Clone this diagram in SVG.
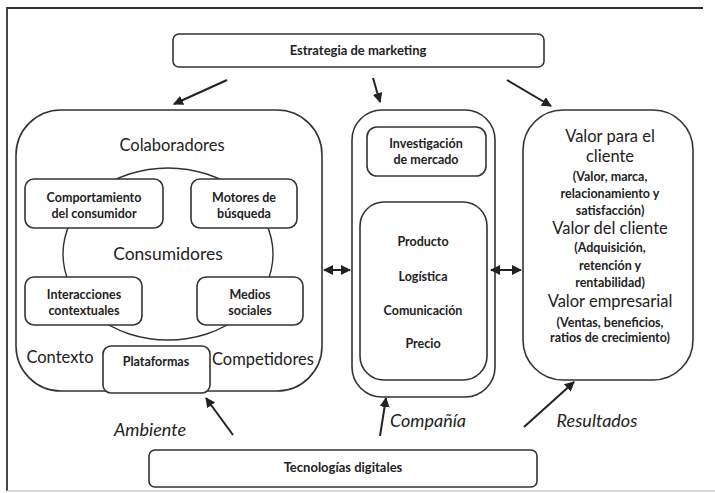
<svg xmlns="http://www.w3.org/2000/svg" width="715" height="493" viewBox="0 0 715 493">
<defs>
<marker id="ah" viewBox="0 0 10 10" refX="9" refY="5" markerWidth="5" markerHeight="5" orient="auto-start-reverse" markerUnits="strokeWidth">
<path d="M0,0 L10,5 L0,10 z" fill="#222"/>
</marker>
</defs>
<style>
.box{fill:#fff;stroke:#333;stroke-width:1.6}
.t{font-family:Lato,"Liberation Sans",sans-serif;fill:#222;text-anchor:middle}
.s{font-size:12.5px;font-weight:bold}
.m{font-size:13px;font-weight:bold}
.l{font-size:16.5px}
.xl{font-size:17.5px}
.it{font-style:italic;font-size:18px}
.ar{stroke:#222;stroke-width:2;fill:none;marker-end:url(#ah)}
.dar{stroke:#222;stroke-width:2;fill:none;marker-end:url(#ah);marker-start:url(#ah)}
</style>
<rect width="715" height="493" fill="#fff"/>
<path d="M7,491 L7,8 L703,8" fill="none" stroke="#333" stroke-width="1.8"/>
<line x1="7" y1="491" x2="715" y2="491" stroke="#ccc" stroke-width="1.5"/>

<g id="estrategia">
<rect class="box" x="173" y="34" width="371" height="33" rx="6"/>
<text class="t m" x="358" y="55">Estrategia de marketing</text>
</g>

<g id="ambiente">
<rect class="box" x="16" y="110" width="306" height="281" rx="45"/>
<text class="t l" x="172" y="151">Colaboradores</text>
<ellipse cx="168" cy="254" rx="105" ry="86" fill="none" stroke="#333" stroke-width="1.4"/>
<text class="t xl" x="168" y="260">Consumidores</text>
<text class="t l" x="60" y="363">Contexto</text>
<text class="t l" x="263" y="365">Competidores</text>
</g>

<g id="comportamiento">
<rect class="box" x="25" y="179" width="138" height="49" rx="9"/>
<text class="t s" x="94" y="202">Comportamiento</text>
<text class="t s" x="94" y="218">del consumidor</text>
</g>
<g id="motores">
<rect class="box" x="191" y="179" width="106" height="49" rx="9"/>
<text class="t s" x="244" y="202">Motores de</text>
<text class="t s" x="244" y="218">búsqueda</text>
</g>
<g id="interacciones">
<rect class="box" x="25" y="277" width="117" height="48" rx="9"/>
<text class="t s" x="84" y="299">Interacciones</text>
<text class="t s" x="84" y="315">contextuales</text>
</g>
<g id="medios">
<rect class="box" x="197" y="277" width="106" height="48" rx="9"/>
<text class="t s" x="250" y="299">Medios</text>
<text class="t s" x="250" y="315">sociales</text>
</g>
<g id="plataformas">
<rect class="box" x="103" y="346" width="107" height="47" rx="8"/>
<text class="t s" x="156" y="366">Plataformas</text>
</g>

<g id="compania">
<rect class="box" x="352" y="110" width="143" height="287" rx="30"/>
<rect class="box" x="367" y="127" width="119" height="49" rx="10"/>
<text class="t s" x="426" y="148">Investigación</text>
<text class="t s" x="426" y="164">de mercado</text>
<rect class="box" x="360" y="202" width="127" height="178" rx="24"/>
<text class="t s" x="423" y="246">Producto</text>
<text class="t s" x="423" y="281">Logística</text>
<text class="t s" x="423" y="315">Comunicación</text>
<text class="t s" x="423" y="348">Precio</text>
</g>

<g id="resultados">
<rect class="box" x="523" y="110" width="170" height="270" rx="40"/>
<text class="t l" x="610" y="142">Valor para el</text>
<text class="t l" x="610" y="162">cliente</text>
<text class="t s" x="610" y="181">(Valor, marca,</text>
<text class="t s" x="610" y="198">relacionamiento y</text>
<text class="t s" x="610" y="215">satisfacción)</text>
<text class="t l" x="610" y="234">Valor del cliente</text>
<text class="t s" x="610" y="252">(Adquisición,</text>
<text class="t s" x="610" y="270">retención y</text>
<text class="t s" x="610" y="287">rentabilidad)</text>
<text class="t l" x="610" y="307">Valor empresarial</text>
<text class="t s" x="610" y="327">(Ventas, beneficios,</text>
<text class="t s" x="610" y="342">ratios de crecimiento)</text>
</g>

<g id="tecnologias">
<rect class="box" x="149" y="450" width="388" height="37" rx="6"/>
<text class="t m" x="343" y="472">Tecnologías digitales</text>
</g>

<g id="labels">
<text class="t it" x="150" y="436">Ambiente</text>
<text class="t it" x="428" y="427">Compañía</text>
<text class="t it" x="597" y="427">Resultados</text>
</g>

<g id="connectors">
<line class="ar" x1="227" y1="80" x2="174" y2="104"/>
<line class="ar" x1="373" y1="78" x2="380" y2="102"/>
<line class="ar" x1="507" y1="80" x2="551" y2="106"/>
<line class="dar" x1="324" y1="270" x2="350" y2="270"/>
<line class="dar" x1="491" y1="270" x2="521" y2="270"/>
<line class="ar" x1="233" y1="435" x2="206" y2="398"/>
<line class="ar" x1="380" y1="436" x2="386" y2="398"/>
<line class="ar" x1="524" y1="427" x2="574" y2="382"/>
</g>
</svg>
